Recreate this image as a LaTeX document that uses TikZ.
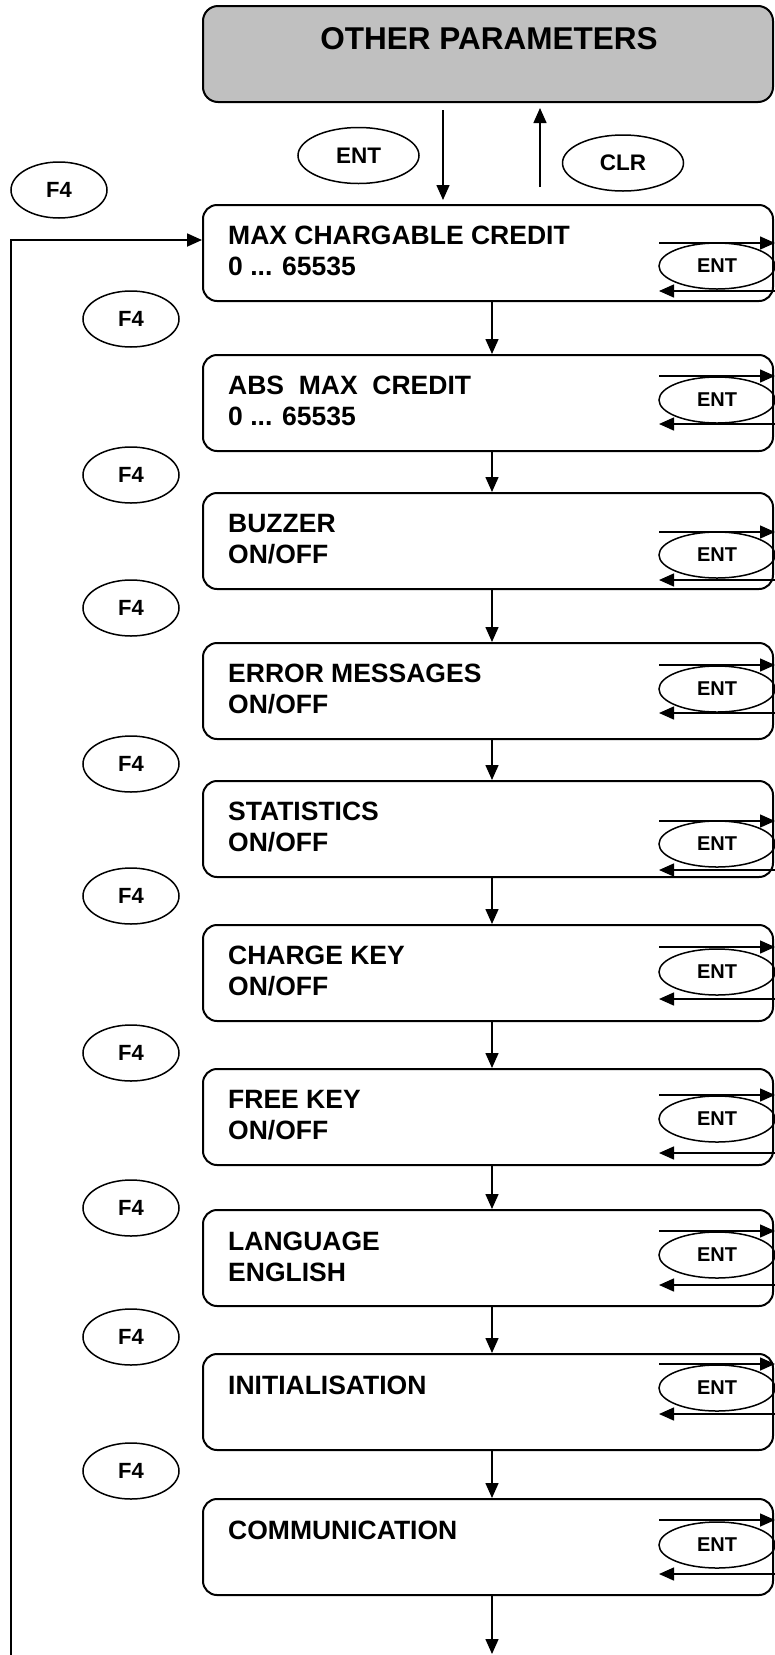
\documentclass[tikz,border=0pt]{standalone}
\usepackage{fontspec}
\setmainfont{Liberation Sans}
\usetikzlibrary{shapes.geometric,arrows.meta}
\definecolor{boxgray}{HTML}{C0C0C0}
\newcommand{\parambox}[5]{%
  % #1 name, #2 top, #3 right-arrow y, #4 left-arrow y, #5 ENT centre y
  \node[pbox] (#1) at (488,#2+48) {};
  \node[entkey] (#1e) at (717,#5) {ENT};
  \coordinate (#1ri) at (659,#3);
  \coordinate (#1ro) at (775,#3);
  \coordinate (#1li) at (659,#4);
  \coordinate (#1lo) at (775,#4);
  \draw[arr] (#1ri) -- (#1ro);
  \draw[arr] (#1lo) -- (#1li);
}
\begin{document}
\begin{tikzpicture}[x=1pt,y=-1pt,
  pbox/.style={draw, line width=2pt, rounded corners=14pt, minimum width=570pt, minimum height=96pt, inner sep=0pt},
  ptext/.style={anchor=base west, inner sep=0pt, font=\fontsize{26.5}{31}\selectfont\bfseries},
  key/.style={draw, ellipse, line width=1.5pt, inner sep=0pt},
  f4key/.style={key, minimum width=96pt, minimum height=56pt, font=\fontsize{22}{26}\selectfont\bfseries},
  bigkey/.style={key, minimum width=121pt, minimum height=56pt, font=\fontsize{22.5}{26}\selectfont\bfseries},
  entkey/.style={key, minimum width=116pt, minimum height=46pt, font=\fontsize{20}{24}\selectfont\bfseries},
  arr/.style={line width=1.5pt, -{Triangle[length=15pt,width=13pt]}},
]
\useasboundingbox (0,0) rectangle (775,1655);

% title box
\node[draw, fill=boxgray, line width=2pt, rounded corners=15pt, minimum width=570pt, minimum height=96pt, inner sep=0pt] (top) at (488,54) {};
\node[anchor=base, inner sep=0pt, font=\fontsize{31.5}{36}\selectfont\bfseries] (title) at (489,49) {OTHER PARAMETERS};

% keys near title
\node[bigkey] (entTop) at (358.5,155.5) {ENT};
\node[bigkey] (clr) at (623,163) {CLR};
\node[f4key] (f4top) at (59,190) {F4};

% parameter boxes
\parambox{b1}{205}{243}{291}{266}
\parambox{b2}{355}{376}{424}{400}
\parambox{b3}{493}{532}{580}{555}
\parambox{b4}{643}{665}{713}{689}
\parambox{b5}{781}{821}{870}{844}
\parambox{b6}{925}{947}{999}{972}
\parambox{b7}{1069}{1095}{1153}{1119}
\parambox{b8}{1210}{1231}{1285}{1255}
\parambox{b9}{1354}{1364}{1414}{1388}
\parambox{b10}{1499}{1520}{1574}{1545}

% texts
\node[ptext] (b1t1) at (228,244) {MAX CHARGABLE CREDIT};
\node[ptext] (b1t2) at (228,275) {0 ... 65535};
\node[ptext] (b2t1) at (228,394) {ABS\ \ MAX\ \ CREDIT};
\node[ptext] (b2t2) at (228,425) {0 ... 65535};
\node[ptext] (b3t1) at (228,532) {BUZZER};
\node[ptext] (b3t2) at (228,563) {ON/OFF};
\node[ptext] (b4t1) at (228,682) {ERROR MESSAGES};
\node[ptext] (b4t2) at (228,713) {ON/OFF};
\node[ptext] (b5t1) at (228,820) {STATISTICS};
\node[ptext] (b5t2) at (228,851) {ON/OFF};
\node[ptext] (b6t1) at (228,964) {CHARGE KEY};
\node[ptext] (b6t2) at (228,995) {ON/OFF};
\node[ptext] (b7t1) at (228,1108) {FREE KEY};
\node[ptext] (b7t2) at (228,1139) {ON/OFF};
\node[ptext] (b8t1) at (228,1250) {LANGUAGE};
\node[ptext] (b8t2) at (228,1281) {ENGLISH};
\node[ptext] (b9t1) at (228,1394) {INITIALISATION};
\node[ptext] (b10t1) at (228,1539) {COMMUNICATION};

% F4 keys
\node[f4key] (f41) at (131,319) {F4};
\node[f4key] (f42) at (131,475) {F4};
\node[f4key] (f43) at (131,608) {F4};
\node[f4key] (f44) at (131,764) {F4};
\node[f4key] (f45) at (131,896) {F4};
\node[f4key] (f46) at (131,1053) {F4};
\node[f4key] (f47) at (131,1208) {F4};
\node[f4key] (f48) at (131,1337) {F4};
\node[f4key] (f49) at (131,1471) {F4};

% title <-> first box
\coordinate (dnA) at (443,110);
\coordinate (dnB) at (443,200);
\coordinate (upA) at (540,187);
\coordinate (upB) at (540,108);
\draw[arr] (dnA) -- (dnB);
\draw[arr] (upA) -- (upB);

% down arrows between boxes
\coordinate (dx) at (492,0);
\draw[arr] (b1.south -| dx) -- (b2.north -| dx);
\draw[arr] (b2.south -| dx) -- (b3.north -| dx);
\draw[arr] (b3.south -| dx) -- (b4.north -| dx);
\draw[arr] (b4.south -| dx) -- (b5.north -| dx);
\draw[arr] (b5.south -| dx) -- (b6.north -| dx);
\draw[arr] (b6.south -| dx) -- (b7.north -| dx);
\draw[arr] (b7.south -| dx) -- (b8.north -| dx);
\draw[arr] (b8.south -| dx) -- (b9.north -| dx);
\draw[arr] (b9.south -| dx) -- (b10.north -| dx);
\coordinate (endB) at (492,1654);
\draw[arr] (b10.south -| dx) -- (endB);

% feedback loop on the left
\coordinate (fbb) at (11,1660);
\draw[line width=1.8pt, -{Triangle[length=15pt,width=13pt]}] (fbb) |- ([yshift=13pt]b1.west);
\end{tikzpicture}
\end{document}
